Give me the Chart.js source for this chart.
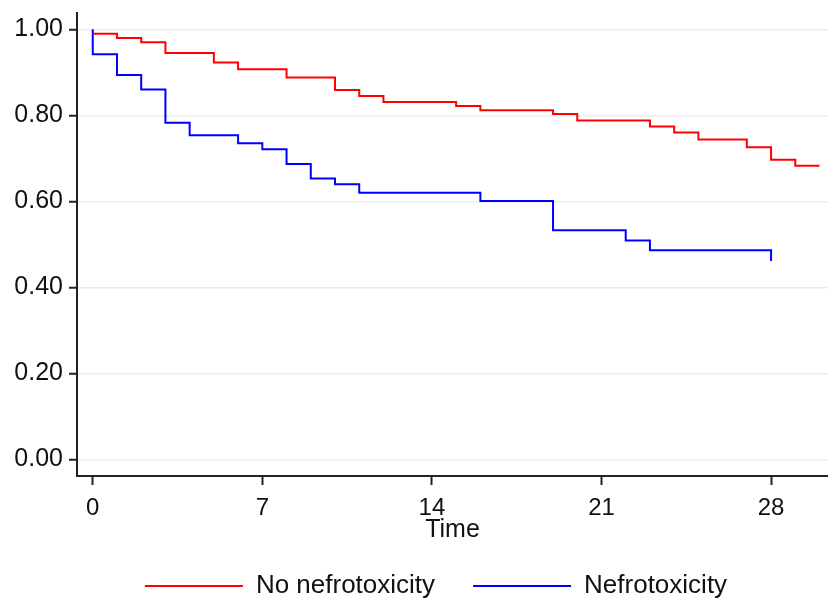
<!DOCTYPE html>
<html lang="en">
<head>
<meta charset="UTF-8">
<title>Survival by nephrotoxicity</title>
<script src="https://cdn.jsdelivr.net/npm/chart.js"></script>
<style>
  body { margin: 0; background: #fff; }
</style>
</head>
<body>
<canvas id="kmChart" width="828" height="602"></canvas>

<script>
  // Kaplan-Meier estimates
  const seriesNames = ['No nefrotoxicity', 'Nefrotoxicity'];

  const noNefroTime = [0, 1, 2, 3, 5, 6, 8, 10, 11, 12, 15, 16, 19, 20, 23, 24, 25, 27, 28, 29, 30];
  const noNefroSurv = [0.99, 0.98, 0.97, 0.945, 0.923, 0.907, 0.888, 0.859, 0.845, 0.831, 0.822, 0.812, 0.803, 0.788, 0.774, 0.760, 0.744, 0.726, 0.697, 0.683, 0.683];

  const nefroTime = [0, 0, 1, 2, 3, 4, 6, 7, 8, 9, 10, 11, 16, 19, 22, 23, 28];
  const nefroSurv = [1.0, 0.942, 0.894, 0.860, 0.783, 0.754, 0.735, 0.721, 0.687, 0.653, 0.640, 0.620, 0.601, 0.533, 0.509, 0.486, 0.461];

  const xTicks = [0, 7, 14, 21, 28];
  const yTicks = [0, 0.2, 0.4, 0.6, 0.8, 1.0];

  const fontFam = "'Liberation Sans', Arial, sans-serif";

  function toPoints(times, surv) {
    return times.map((t, i) => ({ x: t, y: surv[i] }));
  }

  // legend is centred a bit right of the page centre in the original
  const shiftLegend = {
    id: 'shiftLegend',
    afterLayout: function (chart) {
      chart.legend.left = 44;
    }
  };

  const ctx = document.getElementById('kmChart');

  new Chart(ctx, {
    type: 'line',
    data: {
      datasets: [{
        label: seriesNames[0],
        data: toPoints(noNefroTime, noNefroSurv),
        borderColor: '#ff0000',
        backgroundColor: '#ff0000',
        borderWidth: 2,
        stepped: true,
        pointRadius: 0,
        fill: false
      }, {
        label: seriesNames[1],
        data: toPoints(nefroTime, nefroSurv),
        borderColor: '#0000ff',
        backgroundColor: '#0000ff',
        borderWidth: 2,
        stepped: true,
        pointRadius: 0,
        fill: false
      }]
    },
    plugins: [shiftLegend],
    options: {
      responsive: false,
      animation: false,
      layout: { padding: { left: 0, right: 0, top: 13, bottom: -7 } },
      plugins: {
        tooltip: { enabled: false },
        legend: {
          position: 'bottom',
          labels: {
            boxWidth: 98,
            boxHeight: 2,
            padding: 38,
            color: '#111',
            font: { family: fontFam, size: 26 },
            generateLabels: function (chart) {
              const items = Chart.defaults.plugins.legend.labels.generateLabels(chart);
              items.forEach(it => { it.lineWidth = 0; it.fillStyle = it.strokeStyle; });
              return items;
            }
          }
        }
      },
      scales: {
        x: {
          type: 'linear',
          min: -0.65,
          max: 30.35,
          afterBuildTicks: function (axis) {
            axis.ticks = xTicks.map(v => ({ value: v }));
          },
          afterFit: function (axis) {
            axis.height = 59;
            axis.paddingLeft = 0;
            axis.paddingRight = 0;
          },
          border: { display: true, color: '#222', width: 2 },
          grid: { drawOnChartArea: false, tickLength: 9, tickColor: '#222', tickWidth: 2 },
          ticks: {
            color: '#111',
            padding: 9,
            font: { family: fontFam, size: 24 },
            maxRotation: 0
          },
          title: {
            display: true,
            text: 'Time',
            color: '#111',
            padding: { top: 0, bottom: -10 },
            font: { family: fontFam, size: 25 }
          }
        },
        y: {
          min: -0.0387,
          max: 1.038,
          afterBuildTicks: function (axis) {
            axis.ticks = yTicks.map(v => ({ value: v }));
          },
          afterFit: function (axis) {
            axis.width = 77;
            axis.paddingTop = 0;
            axis.paddingBottom = 0;
          },
          border: { display: true, color: '#222', width: 2 },
          grid: { color: '#e6eef1', lineWidth: 1.5, tickLength: 8, tickColor: '#222', tickWidth: 2 },
          ticks: {
            color: '#111',
            padding: 6,
            font: { family: fontFam, size: 25 },
            callback: function (v) { return v.toFixed(2); }
          }
        }
      }
    }
  });
</script>
</body>
</html>
